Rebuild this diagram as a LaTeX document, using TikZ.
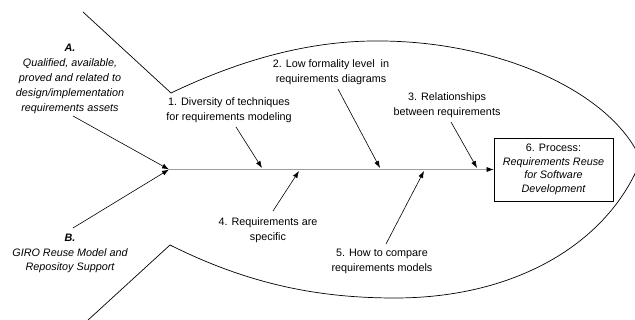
\documentclass[tikz,border=0pt]{standalone}
\usepackage{fontspec}
\setmainfont{Liberation Sans}
\usetikzlibrary{arrows.meta}
\begin{document}
\begin{tikzpicture}[x=1pt,y=-1pt,
  lbl/.style={align=center,font=\fontsize{10.8}{14.8}\selectfont,inner sep=0pt},
  boxlbl/.style={draw,line width=0.7pt,align=center,minimum width=119pt,minimum height=63pt,inner sep=0pt,font=\fontsize{10.8}{13.5}\selectfont},
  arr/.style={-{Latex[length=7pt,width=5pt]},line width=0.6pt},
  fish/.style={line width=0.7pt},
  spine/.style={draw=black!38,line width=0.6pt,-{Latex[length=7pt,width=5pt,color=black]}}]
\useasboundingbox (0,0) rectangle (635,320);
% fish outline
\coordinate (tailU) at (171,93);
\coordinate (tailL) at (170,245);
\coordinate (nose) at (641,160);
\coordinate (tu) at (83,12);
\coordinate (tl) at (87,321);
\draw[fish] (tu) -- (tailU) .. controls (240,60) and (310,40) .. (382,41)
  .. controls (500,42) and (612,92) .. (nose);
\draw[fish] (tl) -- (tailL) .. controls (250,285) and (320,298) .. (395,298)
  .. controls (520,298) and (610,240) .. (nose);
% effect box
\node[boxlbl] (box) at (553.5,169.5) {6. Process:\\\itshape Requirements Reuse\\\itshape for Software\\\itshape Development};
% head point of spine
\coordinate (head) at (169,169.5);
\draw[spine] (head) -- (box.west);
% A and B
\node[lbl] (A) at (70,79) {\textbf{\textit{A.}}\\\itshape Qualified, available,\\\itshape proved and related to\\\itshape design/implementation\\\itshape requirements assets};
\node[lbl] (B) at (70,253.5) {\textbf{\textit{B.}}\\\itshape GIRO Reuse Model and\\\itshape Repositoy Support};
\coordinate (As) at (73,116);
\coordinate (Bs) at (73,228);
\draw[arr] (As) -- (head);
\draw[arr] (Bs) -- (head);
% causes
\node[lbl] (c1) at (229,110.5) {1. Diversity of techniques\\for requirements modeling};
\node[lbl] (c2) at (331,72) {2. Low formality level\ \ in\\requirements diagrams};
\node[lbl] (c3) at (447,105) {3. Relationships\\between requirements};
\node[lbl] (c4) at (268,230) {4. Requirements are\\specific};
\node[lbl] (c5) at (382,261.5) {5. How to compare\\requirements models};
\coordinate (c1s) at (236,127); \coordinate (c1e) at (262,168);
\coordinate (c2s) at (338,89);  \coordinate (c2e) at (380,168);
\coordinate (c3s) at (451,122); \coordinate (c3e) at (477,168);
\coordinate (c4s) at (273,211); \coordinate (c4e) at (299,171);
\coordinate (c5s) at (386,244); \coordinate (c5e) at (424,171);
\draw[arr] (c1s) -- (c1e);
\draw[arr] (c2s) -- (c2e);
\draw[arr] (c3s) -- (c3e);
\draw[arr] (c4s) -- (c4e);
\draw[arr] (c5s) -- (c5e);
\end{tikzpicture}
\end{document}
